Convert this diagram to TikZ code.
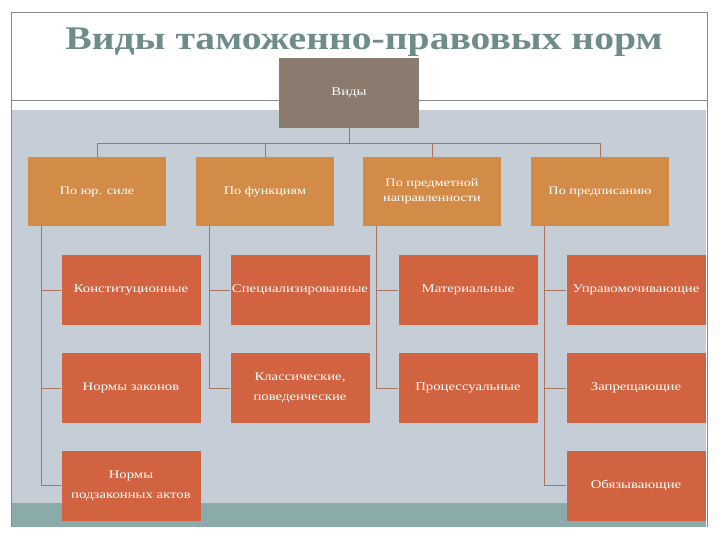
\documentclass[tikz,border=0pt]{standalone}
\usepackage{fontspec}
\setmainfont{Liberation Serif}
\newfontfamily\widefont[FakeStretch=1.25]{Liberation Serif}
\newfontfamily\titlefont[FakeStretch=1.2]{Liberation Serif}
\definecolor{rootc}{HTML}{8B7B6E}
\definecolor{lvla}{HTML}{D28C47}
\definecolor{lvlb}{HTML}{D16340}
\definecolor{bgg}{HTML}{C5CED6}
\definecolor{band}{HTML}{8AABAA}
\definecolor{titlec}{HTML}{6E8C8A}
\definecolor{conn}{HTML}{A87560}
\definecolor{frame}{HTML}{8A8A8A}
\begin{document}
\begin{tikzpicture}[x=1pt,y=-1pt,
  boxbase/.style={rectangle, inner sep=0pt, align=center, text=white,
    font=\widefont\fontsize{11.8}{20}\selectfont},
  rootbox/.style={boxbase, fill=rootc, minimum width=140pt, minimum height=70pt},
  onebox/.style={boxbase, fill=lvla, minimum width=138pt, minimum height=69pt,
    font=\widefont\fontsize{11.4}{15}\selectfont},
  twobox/.style={boxbase, fill=lvlb, minimum width=139pt, minimum height=70pt},
  link/.style={draw=conn, line width=0.8pt}]
\useasboundingbox (0,0) rectangle (720,540);
\fill[white] (0,0) rectangle (720,540);
% slide background
\fill[bgg] (12,110) rectangle (706,503);
\fill[band] (12,503) rectangle (706,527);
\draw[frame, line width=0.8pt] (11.5,527) -- (11.5,12) -- (707,12) -- (707,527);
\draw[frame, line width=0.8pt] (11.5,100) -- (707,100);
% title
\node[anchor=base, text=titlec, font=\titlefont\fontsize{33}{36}\selectfont\bfseries] (title) at (364,50) {Виды таможенно-правовых норм};
% root
\node[rootbox] (root) at (349,93) {Виды};
% level 1
\node[onebox] (a) at (97,191.5) {По юр. силе};
\node[onebox] (b) at (265,191.5) {По функциям};
\node[onebox] (c) at (432,191.5) {По предметной\\направленности};
\node[onebox] (d) at (600,191.5) {По предписанию};
% level 2
\node[twobox] (a1) at (131,290) {Конституционные};
\node[twobox] (a2) at (131,388) {Нормы законов};
\node[twobox] (a3) at (131,485.5) {Нормы\\подзаконных актов};
\node[twobox] (b1) at (300,290) {Специализированные};
\node[twobox] (b2) at (300,388) {Классические,\\поведенческие};
\node[twobox] (c1) at (468,290) {Материальные};
\node[twobox] (c2) at (468,388) {Процессуальные};
\node[twobox] (d1) at (636,290) {Управомочивающие};
\node[twobox] (d2) at (636,388) {Запрещающие};
\node[twobox] (d3) at (636,485.5) {Обязывающие};
% connectors top
\coordinate (hub) at (349,143);
\draw[link] (root.south) -- (hub);
\foreach \n in {a,b,c,d} { \draw[link] (hub) -| (\n.north); }
% connectors lower
\foreach \p/\kids in {a/{a1,a2,a3}, b/{b1,b2}, c/{c1,c2}, d/{d1,d2,d3}} {
  \foreach \k in \kids { \draw[link] ([xshift=14pt]\p.south west) |- (\k.west); }
}
\end{tikzpicture}
\end{document}
